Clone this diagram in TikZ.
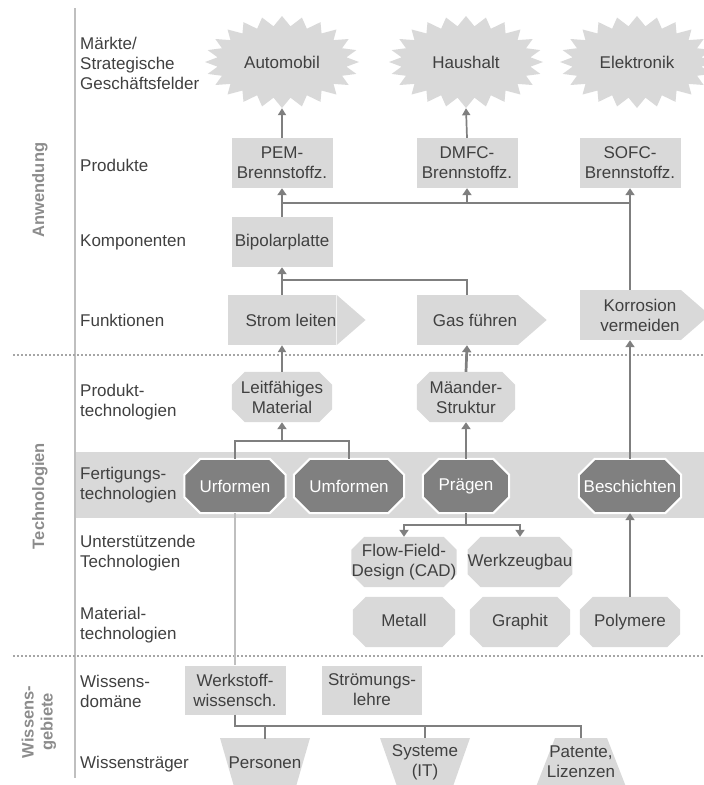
\documentclass[tikz,border=0pt]{standalone}
\usepackage{fontspec}
\setmainfont{Liberation Sans}
\usetikzlibrary{arrows.meta,calc}
\pgfdeclarelayer{background}
\pgfsetlayers{background,main}

\definecolor{boxgray}{HTML}{D9D9D9}
\definecolor{darkbox}{HTML}{808080}
\definecolor{linegray}{HTML}{7F7F7F}
\definecolor{txtgray}{HTML}{404040}
\definecolor{axisgray}{HTML}{BFBFBF}
\definecolor{catgray}{HTML}{8C8C8C}
\definecolor{dotgray}{HTML}{A6A6A6}

% octagon behind a node: #1 node name, #2 chamfer, #3 path style
\newcommand\octagonfill[3]{%
  \path[#3] ($(#1.north west)+(#2,0)$) -- ($(#1.north east)+(-#2,0)$)
    -- ($(#1.north east)+(0,#2)$) -- ($(#1.south east)+(0,-#2)$)
    -- ($(#1.south east)+(-#2,0)$) -- ($(#1.south west)+(#2,0)$)
    -- ($(#1.south west)+(0,-#2)$) -- ($(#1.north west)+(0,#2)$) -- cycle;}

\begin{document}
\begin{tikzpicture}[x=1pt,y=-1pt,
  every node/.style={font=\fontsize{17}{20}\selectfont, text=txtgray, align=center, inner sep=0pt},
  rowlabel/.style={anchor=west, align=left},
  catlabel/.style={rotate=90, font=\fontsize{16.5}{19}\selectfont\bfseries, text=catgray},
  plainbox/.style={fill=boxgray, minimum width=101pt, minimum height=50pt},
  sigbox/.style={fill=boxgray, minimum width=101pt, minimum height=50pt},
  octbox/.style={minimum width=100pt, minimum height=50pt},
  darkoct/.style={minimum height=54pt, text=white},
  starnode/.style={minimum width=154pt, minimum height=92pt},
  trapnode/.style={minimum height=48pt},
  conn/.style={draw=linegray, line width=2.7pt},
  arr/.style={conn, -{Triangle[width=9pt,length=7pt]}},
  thinarr/.style={draw=linegray, line width=1.7pt, -{Triangle[width=8pt,length=7pt]}},
  sep/.style={draw=dotgray, line width=1.6pt, dash pattern=on 2pt off 2pt},
]
\useasboundingbox (0,0) rectangle (704,785);

% axis and separators
\draw[axisgray, line width=2.2pt] (75,8) -- (75,778);
\draw[sep] (13,355) -- (704,355);
\draw[sep] (13,656) -- (704,656);

% category labels
\node[catlabel] (catA) at (40,190) {Anwendung};
\node[catlabel] (catT) at (40,496) {Technologien};
\node[catlabel] (catW) at (39,722) {Wissens-\\gebiete};

% row labels
\node[rowlabel] (r1) at (80,63) {Märkte/\\Strategische\\Geschäftsfelder};
\node[rowlabel] (r2) at (80,165) {Produkte};
\node[rowlabel] (r3) at (80,242) {Komponenten};
\node[rowlabel] (r4) at (80,320) {Funktionen};
\node[rowlabel] (r5) at (80,402) {Produkt-\\technologien};
\node[rowlabel] (r6) at (80,485) {Fertigungs-\\technologien};
\node[rowlabel] (r7) at (80,553) {Unterstützende\\Technologien};
\node[rowlabel] (r8) at (80,625) {Material-\\technologien};
\node[rowlabel] (r9) at (80,691) {Wissens-\\domäne};
\node[rowlabel] (r10) at (80,764) {Wissensträger};

% markets
\node[starnode] (auto) at (282,62) {Automobil};
\node[starnode] (haus) at (466,62) {Haushalt};
\node[starnode] (elek) at (637,62) {Elektronik};

% products and component
\node[plainbox] (pem) at (282,163) {PEM-\\Brennstoffz.};
\node[plainbox] (dmfc) at (467,163) {DMFC-\\Brennstoffz.};
\node[plainbox] (sofc) at (630,163) {SOFC-\\Brennstoffz.};
\node[plainbox] (bip) at (282,242) {Bipolarplatte};

% functions
\node[sigbox] (strom) at (282,320) {\hspace*{18pt}Strom leiten};
\node[sigbox] (gas) at (467,320) {\hspace*{16pt}Gas führen};
\node[sigbox] (kor) at (630,315) {\hspace*{20pt}Korrosion\\\hspace*{20pt}vermeiden};

% product technologies
\node[octbox] (leit) at (282,397) {Leitfähiges\\Material};
\node[octbox, minimum width=98pt] (mae) at (466,397) {Mäander-\\Struktur};

% manufacturing technologies
\node[darkoct, minimum width=101pt] (uform) at (235,486) {Urformen};
\node[darkoct, minimum width=110pt] (umform) at (349,486) {Umformen};
\node[darkoct, minimum width=86pt] (praeg) at (466,486) {Prägen};
\node[darkoct, minimum width=102pt] (besch) at (630,486) {Beschichten};

% supporting technologies
\node[octbox, minimum width=102pt] (flow) at (404,562) {Flow-Field-\\Design (CAD)};
\node[octbox, minimum width=104pt] (werkz) at (520,562) {Werkzeugbau};

% material technologies
\node[octbox, minimum width=102pt, text depth=4pt] (metall) at (404,622) {Metall};
\node[octbox, text depth=4pt] (graphit) at (520,622) {Graphit};
\node[octbox, text depth=4pt] (polym) at (630,622) {Polymere};

% knowledge domains
\node[plainbox, minimum height=49pt] (werk) at (235,690) {Werkstoff-\\wissensch.};
\node[plainbox, minimum width=100pt, minimum height=49pt] (stroem) at (372,690) {Strömungs-\\lehre};

% knowledge carriers
\node[trapnode] (pers) at (265,763) {Personen};
\node[trapnode] (syst) at (425,762) {Systeme\\(IT)};
\node[trapnode] (pat) at (581,762) {Patente,\\Lizenzen};

% shapes behind the texts
\begin{pgfonlayer}{background}
  \fill[boxgray] (76,452) rectangle (704,518);
  \foreach \s in {auto,haus,elek}{
    \fill[boxgray, shift={(\s.center)}] (77,0)
      \foreach \i [evaluate=\i as \m using \i-2*floor(\i/2)] in {1,...,47}{
        -- ({(77-12*\m)*cos(7.5*\i)}, {(46-10*\m)*sin(7.5*\i)}) } -- cycle;
  }
  \foreach \n in {strom,gas,kor}{
    \fill[boxgray] (\n.north east) -- ($(\n.east)+(29,0)$) -- (\n.south east) -- cycle;
  }
  \foreach \n in {leit,mae,flow,werkz,metall,graphit,polym}{
    \octagonfill{\n}{13}{fill=boxgray}
  }
  \foreach \n in {uform,umform,praeg,besch}{
    \octagonfill{\n}{16}{fill=darkbox, draw=white, line width=2pt}
  }
  \fill[boxgray] ($(pers.center)+(-45,-25)$) -- ($(pers.center)+(45,-25)$)
    -- ($(pers.center)+(30,27)$) -- ($(pers.center)+(-30,27)$) -- cycle;
  \fill[boxgray] ($(syst.center)+(-45,-24)$) -- ($(syst.center)+(45,-24)$)
    -- ($(syst.center)+(26,30)$) -- ($(syst.center)+(-26,30)$) -- cycle;
  \fill[boxgray] ($(pat.center)+(-26,-24)$) -- ($(pat.center)+(26,-24)$)
    -- ($(pat.center)+(47,30)$) -- ($(pat.center)+(-47,30)$) -- cycle;
\end{pgfonlayer}

% markets fed by products
\draw[thinarr] (pem.north) -- (auto.south);
\draw[thinarr] (dmfc.north) -- (haus.south);

% products fed by component and corrosion protection
\coordinate (pbus) at (282,203);
\draw[conn] (bip.north) -- (pbus) -- (pbus -| kor.north) -- (kor.north);
\draw[arr] (pbus) -- (pem.south);
\draw[arr] (pbus -| dmfc.south) -- (dmfc.south);
\draw[arr] (pbus -| sofc.south) -- (sofc.south);

% component fed by functions
\coordinate (bbus) at (282,280);
\draw[conn] (strom.north) -- (strom.north |- bbus) -- (bbus -| gas.north) -- (gas.north);
\draw[arr] (bbus) -- (bip.south);

% functions fed by technologies
\draw[thinarr] (leit.north) -- (strom.south);
\draw[arr] (mae.north) -- (gas.south);
\draw[arr] (besch.north) -- (kor.south);

% manufacturing to product technologies
\coordinate (fbus) at (282,441);
\draw[conn] (uform.north) -- (uform.north |- fbus) -- (fbus -| umform.north) -- (umform.north);
\draw[arr] (fbus) -- (leit.south);
\draw[arr] (praeg.north) -- (mae.south);

% embossing to supporting technologies
\coordinate (sbus) at (466,525);
\draw[conn] (praeg.south) -- (sbus);
\draw[arr] (sbus) -| (flow.north);
\draw[arr] (sbus) -| (werkz.north);

% materials
\draw[arr] (polym.north) -- (besch.south);
\draw[draw=axisgray, line width=1.8pt] (uform.south) -- (werk.north);

% knowledge carriers
\coordinate (kbus) at (235,726);
\draw[conn] (werk.south) -- (kbus) -- (kbus -| pat.north) -- (pat.north);
\draw[conn] (kbus -| pers.north) -- (pers.north);
\draw[conn] (kbus -| syst.north) -- (syst.north);
\end{tikzpicture}
\end{document}
